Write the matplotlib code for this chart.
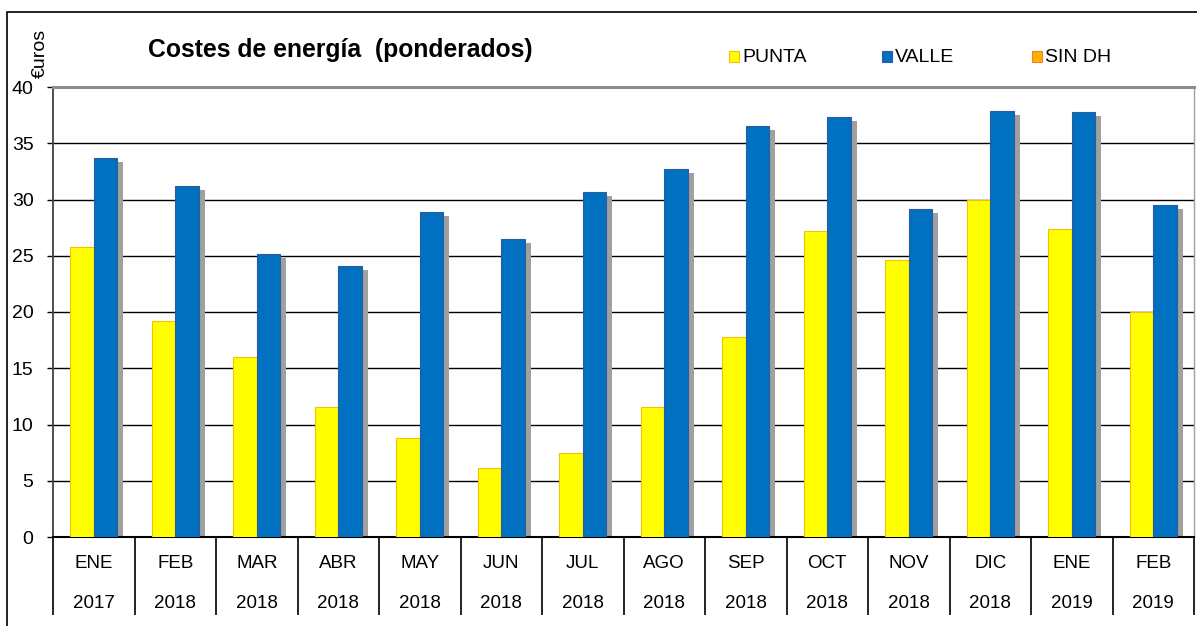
import numpy as np
import matplotlib.pyplot as plt
from matplotlib.patches import Rectangle

plt.rcParams['font.family'] = ['Liberation Sans', 'DejaVu Sans']

meses = ['ENE', 'FEB', 'MAR', 'ABR', 'MAY', 'JUN', 'JUL', 'AGO', 'SEP', 'OCT', 'NOV', 'DIC', 'ENE', 'FEB']
anios = ['2017', '2018', '2018', '2018', '2018', '2018', '2018', '2018', '2018', '2018', '2018', '2018', '2019', '2019']
punta = [25.8, 19.2, 16.0, 11.6, 8.8, 6.1, 7.5, 11.6, 17.8, 27.2, 24.6, 30.0, 27.4, 20.0]
valle = [33.7, 31.2, 25.2, 24.1, 28.9, 26.5, 30.7, 32.7, 36.5, 37.3, 29.2, 37.9, 37.8, 29.5]
series = ['PUNTA', 'VALLE', 'SIN DH']
colores = ['#FFFF00', '#0070C0', '#FFB000']
bordes = ['#F5C000', '#2E5C9A', '#F08030']

fig = plt.figure(figsize=(11.97, 6.26), dpi=100)
ax = fig.add_axes([53/1197, 1 - 537/626, (1194 - 53)/1197, 450/626])

x = np.arange(len(meses))
w = 0.29
dx, dy = 0.07, 0.36

# sombras
for off, vals in [(-w/2, punta), (w/2, valle)]:
    ax.bar(x + off + dx, np.array(vals) - dy, w, color='#A0A0A0', zorder=2)

ax.bar(x - w/2, punta, w, color=colores[0], edgecolor=bordes[0], linewidth=0.8, zorder=3)
ax.bar(x + w/2, valle, w, color=colores[1], edgecolor=bordes[1], linewidth=0.8, zorder=3)

ax.set_xlim(-0.5, len(meses) - 0.5)
ax.set_ylim(0, 40)
ax.set_yticks(range(0, 41, 5))
ax.tick_params(axis='y', labelsize=14, length=4, width=1, direction='out', pad=10)
ax.set_xticks([])
for v in range(5, 40, 5):
    ax.axhline(v, color='black', lw=1, zorder=1)

ax.spines['top'].set_color('#8C8C8C')
ax.spines['top'].set_linewidth(2.2)
ax.spines['right'].set_color('#A0A0A0')
ax.spines['right'].set_linewidth(1)
ax.spines['left'].set_color('#404040')
ax.spines['left'].set_linewidth(1.3)
ax.spines['bottom'].set_color('black')
ax.spines['bottom'].set_linewidth(1.5)

# tabla de categorias
ax.vlines(np.arange(len(meses) + 1) - 0.5, -78/450, 0, color='black', lw=1.2,
          transform=ax.get_xaxis_transform(), clip_on=False)
for i in range(len(meses)):
    ax.text(i, -27/450, meses[i], ha='center', va='center', fontsize=13.5,
            transform=ax.get_xaxis_transform())
    ax.text(i, -67/450, anios[i], ha='center', va='center', fontsize=13.5,
            transform=ax.get_xaxis_transform())

fig.text(40/1197, 1 - 53/626, '€uros', rotation=90, ha='center', va='center', fontsize=14)
fig.text(148/1197, 1 - 50/626, 'Costes de energía  (ponderados)', ha='left', va='center',
         fontsize=17.8, fontweight='bold')

# leyenda
leg_x = [729, 882, 1032]
for lx, nombre, c, b in zip(leg_x, series, colores, bordes):
    fig.patches.append(Rectangle((lx/1197, 1 - 62/626), 10/1197, 11/626, facecolor=c,
                                 edgecolor=b, lw=0.8, transform=fig.transFigure))
    fig.text((lx + 13)/1197, 1 - 57/626, nombre, ha='left', va='center', fontsize=14)

fig.patches.append(Rectangle((7/1197, -0.1), 1.2, 1 - 12/626 + 0.1, fill=False,
                             edgecolor='black', lw=1.2, transform=fig.transFigure))

fig.savefig('out.png', dpi=100)
